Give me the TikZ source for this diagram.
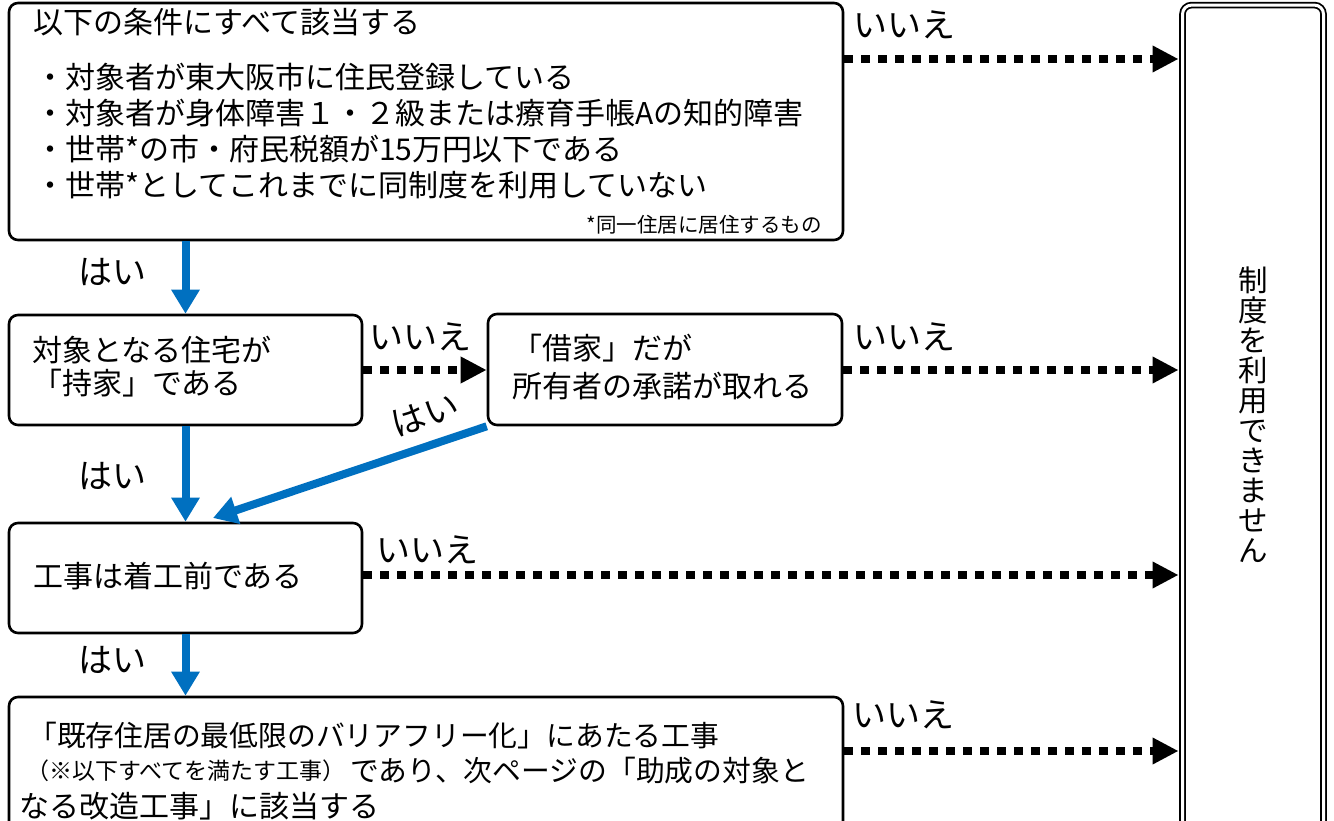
\documentclass[tikz,border=0pt]{standalone}
\usepackage{fontspec}
\setmainfont{Noto Sans CJK JP}
\usetikzlibrary{arrows.meta}
\definecolor{flowblue}{HTML}{0070C0}
\begin{document}
\begin{tikzpicture}[x=1pt,y=-1pt,
  box/.style={draw=black, line width=2.6pt, rounded corners=9pt, inner sep=0pt, fill=white},
  txt/.style={inner sep=0pt, font=\fontsize{30}{36}\selectfont, anchor=west},
  txtb/.style={inner sep=0pt, font=\fontsize{28.8}{36}\selectfont, anchor=west},
  lbl/.style={inner sep=0pt, font=\fontsize{34}{36}\selectfont},
  yesarrow/.style={draw=flowblue, line width=8pt, -{Triangle[width=27pt,length=24pt]}},
  noarrow/.style={draw=black, line width=8.3pt, dash pattern=on 8.5pt off 8.5pt, -{Triangle[width=25pt,length=26pt]}},
]
\useasboundingbox (0,0) rectangle (1334,821);
\fill[white] (0,0) rectangle (1334,821);

% boxes
\node[box, minimum width=834pt, minimum height=237pt] (b1) at (426,121.5) {};
\node[box, minimum width=353pt, minimum height=110pt] (b2) at (185.5,370) {};
\node[box, minimum width=354pt, minimum height=111pt] (b3) at (665,369.5) {};
\node[box, minimum width=353pt, minimum height=110pt] (b4) at (185.5,578) {};
\node[box, minimum width=834pt, minimum height=173pt] (b5) at (426,783.5) {};
\node[draw=black, double, line width=1.8pt, double distance=3pt, rounded corners=9pt,
      minimum width=141pt, minimum height=895pt, inner sep=0pt] (rb) at (1253,452.6) {};

% row coordinates
\coordinate (r1) at (0,59);
\coordinate (r2) at (0,370);
\coordinate (r3) at (0,575);
\coordinate (r4) at (0,751);
\coordinate (diagend) at (213,518);

% box texts
\node[txt] (t1) at (33,22) {以下の条件にすべて該当する};
\node[txt] (t2) at (35,77) {・対象者が東大阪市に住民登録している};
\node[txt] (t3) at (35,113) {・対象者が身体障害１・２級または療育手帳Aの知的障害};
\node[txt] (t4) at (35,149) {・世帯*の市・府民税額が15万円以下である};
\node[txt] (t5) at (35,185) {・世帯*としてこれまでに同制度を利用していない};
\node[inner sep=0pt, anchor=east, font=\fontsize{20.5}{22}\selectfont] (fn) at (822,225) {*同一住居に居住するもの};

\node[txt] (t6) at (32,350) {対象となる住宅が};
\node[txt] (t7) at (32,383) {「持家」である};
\node[txt] (t8) at (512,348) {「借家」だが};
\node[txt] (t9) at (512,386) {所有者の承諾が取れる};
\node[txt] (t10) at (33,576) {工事は着工前である};
\node[txtb] (t11) at (28,736) {「既存住居の最低限のバリアフリー化」にあたる工事};
\node[inner sep=0pt, anchor=west, font=\fontsize{23}{26}\selectfont] (t12) at (26,771) {（※以下すべてを満たす工事）};
\node[txtb] (t13) at (350,771) {であり、次ページの「助成の対象と};
\node[txt] (t14) at (19,806) {なる改造工事」に該当する};

\node[inner sep=0pt, align=center, font=\fontsize{29.5}{30}\selectfont] (rbt) at (1253,415)
  {制\\度\\を\\利\\用\\で\\き\\ま\\せ\\ん};

% yes arrows
\draw[yesarrow] (b1.south -| b2.north) -- (b2.north);
\draw[yesarrow] (b2.south) -- (b4.north);
\draw[yesarrow] (b4.south) -- (b4.south |- b5.north);
\draw[yesarrow] (b3.south west) -- (diagend);

% no arrows
\draw[noarrow] (b1.east |- r1) -- ([xshift=-3pt]rb.west |- r1);
\draw[noarrow] (b2.east |- r2) -- (b3.west |- r2);
\draw[noarrow] (b3.east |- r2) -- ([xshift=-3pt]rb.west |- r2);
\draw[noarrow] (b4.east |- r3) -- ([xshift=-3pt]rb.west |- r3);
\draw[noarrow] (b5.east |- r4) -- ([xshift=-3pt]rb.west |- r4);

% labels
\node[lbl] (n1) at (904,25) {いいえ};
\node[lbl] (n2) at (420,337) {いいえ};
\node[lbl] (n3) at (904,337) {いいえ};
\node[lbl] (n4) at (427,550) {いいえ};
\node[lbl] (n5) at (903,715) {いいえ};
\node[lbl] (y1) at (112,272) {はい};
\node[lbl] (y2) at (112,476) {はい};
\node[lbl] (y3) at (112,660) {はい};
\node[lbl, rotate=19] (y4) at (425,415) {はい};
\end{tikzpicture}
\end{document}
